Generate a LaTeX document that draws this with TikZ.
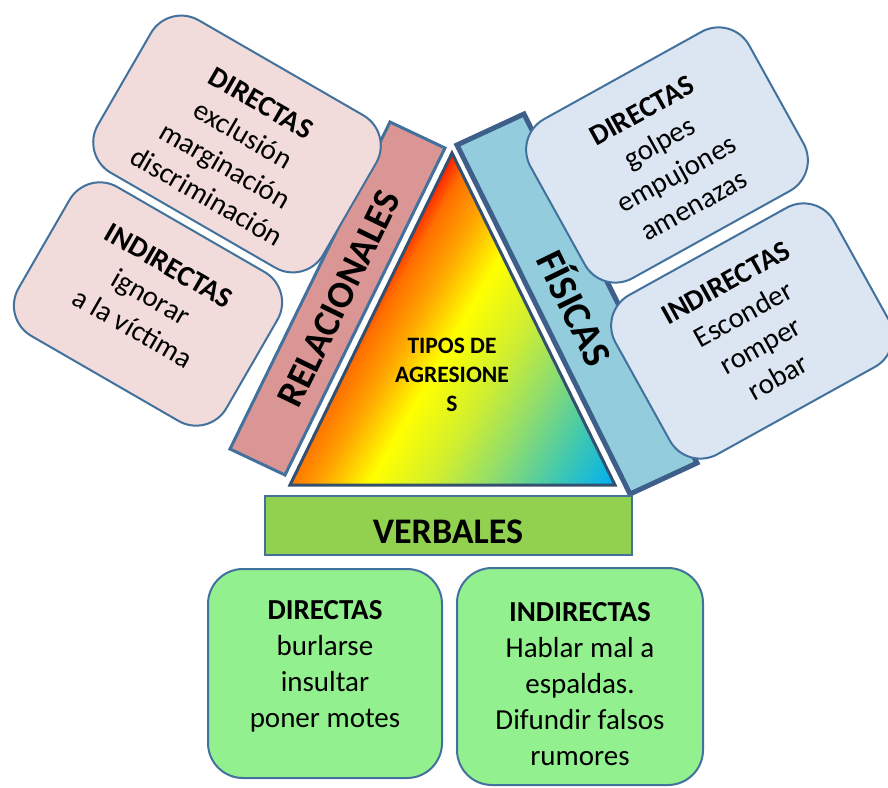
\documentclass[tikz,border=0pt]{standalone}
\usepackage{fontspec}
\setmainfont{Carlito}
\definecolor{tR}{HTML}{FF0000}
\definecolor{tA}{HTML}{FF3400}
\definecolor{tO}{HTML}{FF6E00}
\definecolor{tB}{HTML}{FFA400}
\definecolor{tY}{HTML}{FFFF00}
\definecolor{tC}{HTML}{D0EE30}
\definecolor{tD}{HTML}{8CDC70}
\definecolor{tF}{HTML}{40C8B0}
\definecolor{tE}{HTML}{00B0F0}
\definecolor{bordc}{HTML}{41719C}
\definecolor{tribord}{HTML}{34506F}
\definecolor{fisbord}{HTML}{3E5F8A}
\definecolor{relfill}{HTML}{D99694}
\definecolor{fisfill}{HTML}{93CDDD}
\definecolor{pinkfill}{HTML}{F2DCDB}
\definecolor{bluefill}{HTML}{DCE6F2}
\definecolor{greenfill}{HTML}{93F08F}
\definecolor{verbfill}{HTML}{92D050}
\pgfdeclarehorizontalshading{rainbowtri}{100bp}{color(0bp)=(tR); color(36.5bp)=(tR); color(38bp)=(tA); color(40bp)=(tO); color(45bp)=(tB); color(51.5bp)=(tY); color(60bp)=(tC); color(68bp)=(tD); color(76bp)=(tF); color(84bp)=(tE); color(100bp)=(tE)}
\begin{document}
\begin{tikzpicture}[x=1pt,y=-1pt,
  softbox/.style={draw=bordc, line width=2pt, rounded corners=35pt, inner sep=0pt},
  pinkbox/.style={softbox, fill=pinkfill},
  bluebox/.style={softbox, fill=bluefill},
  greenbox/.style={softbox, fill=greenfill},
  bodytxt/.style={align=center, inner sep=0pt, font=\fontsize{29}{36}\selectfont},
  bartxt/.style={inner sep=0pt, font=\bfseries\fontsize{38}{44}\selectfont}
]
\useasboundingbox (0,0) rectangle (888,787);

% RELACIONALES bar
\coordinate (r1) at (390,122);
\coordinate (r2) at (445,148);
\coordinate (r3) at (285,475);
\coordinate (r4) at (230,449);
\draw[draw=bordc, fill=relfill, line width=3pt] (r1) -- (r2) -- (r3) -- (r4) -- cycle;
\node[bartxt, rotate=64] (rel) at (339,299) {RELACIONALES};

% FISICAS bar
\coordinate (f1) at (457,145);
\coordinate (f2) at (524,114);
\coordinate (f3) at (697,463);
\coordinate (f4) at (630,494);
\draw[draw=fisbord, fill=fisfill, line width=5pt, line join=miter] (f1) -- (f2) -- (f3) -- (f4) -- cycle;
\node[bartxt, font=\bfseries\fontsize{40}{44}\selectfont, rotate=-64] (fis) at (577,307) {FÍSICAS};

% triangle
\coordinate (ta) at (452,153);
\coordinate (tl) at (290,485);
\coordinate (tr) at (615,485);
\path[shading=rainbowtri, shading angle=-30] (ta) -- (tr) -- (tl) -- cycle;
\draw[draw=tribord, line width=3pt, line join=miter] (ta) -- (tr) -- (tl) -- cycle;
\node[align=center, inner sep=0pt, font=\bfseries\fontsize{23.5}{29}\selectfont] (tipos) at (452,375) {TIPOS DE\\AGRESIONE\\S};

% VERBALES bar
\node[draw=bordc, fill=verbfill, line width=2.5pt, minimum width=367pt, minimum height=59pt, inner sep=0pt] (verb) at (448.5,525.5) {};
\node[inner sep=0pt, font=\bfseries\fontsize{36}{40}\selectfont] (verbt) at (448,532) {VERBALES};

% left boxes
\node[pinkbox, minimum width=260pt, minimum height=176pt, rotate=-30] (ldir) at (237,144) {};
\node[bodytxt, rotate=-30] (ldirt) at (234,150) {\textbf{DIRECTAS}\\exclusión\\marginación\\discriminación};
\node[pinkbox, minimum width=240pt, minimum height=172pt, rotate=-30] (lind) at (148,304) {};
\node[bodytxt, rotate=-30] (lindt) at (151,297) {\textbf{INDIRECTAS}\\ignorar\\a la víctima};

% right boxes
\node[bluebox, minimum width=250pt, minimum height=182pt, rotate=29] (rdir) at (667,155) {};
\node[bodytxt, rotate=29] (rdirt) at (668,158) {\textbf{DIRECTAS}\\golpes\\empujones\\amenazas};
\node[bluebox, minimum width=250pt, minimum height=182pt, rotate=29] (rind) at (752,331) {};
\node[bodytxt, rotate=29] (rindt) at (752,330) {\textbf{INDIRECTAS}\\Esconder\\romper\\robar};

% bottom boxes
\node[greenbox, minimum width=234pt, minimum height=209pt] (bdir) at (325,673.5) {};
\node[bodytxt] (bdirt) at (325,666) {\textbf{DIRECTAS}\\burlarse\\insultar\\poner motes};
\node[greenbox, minimum width=246pt, minimum height=217pt] (bind) at (580,676.5) {};
\node[bodytxt] (bindt) at (580,684) {\textbf{INDIRECTAS}\\Hablar mal a\\espaldas.\\Difundir falsos\\rumores};
\end{tikzpicture}
\end{document}
